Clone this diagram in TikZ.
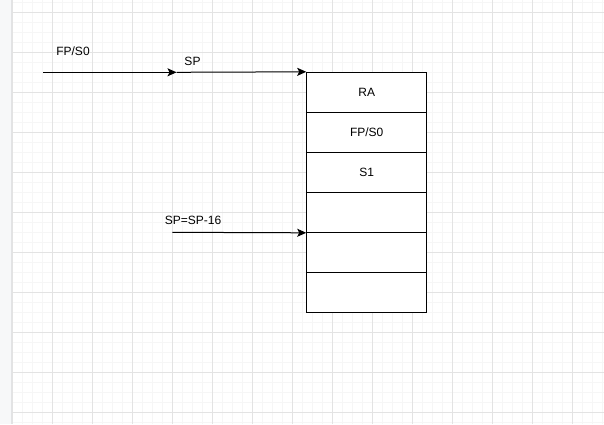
\documentclass[tikz,border=0pt]{standalone}
\usepackage{fontspec}
\setmainfont{Liberation Sans}
\usetikzlibrary{arrows.meta}
\definecolor{panelbg}{HTML}{F7F8F9}
\definecolor{paneledge}{HTML}{E2E3E5}
\definecolor{minorgrid}{HTML}{F6F6F6}
\definecolor{majorgrid}{HTML}{E3E3E3}
\tikzset{
  minorline/.style={draw=minorgrid, line width=1pt},
  majorline/.style={draw=majorgrid, line width=1pt},
  cell/.style={draw=black, line width=1pt, fill=white, rectangle, minimum width=120pt, minimum height=40pt, inner sep=0pt, font=\fontsize{12}{14}\selectfont},
  lbl/.style={inner sep=0pt, font=\fontsize{12}{14}\selectfont},
  conn/.style={draw=black, line width=1pt, -{Stealth[length=9pt,width=8pt,inset=2pt]}}
}
\begin{document}
\begin{tikzpicture}[x=1pt,y=-1pt]
\useasboundingbox (0,0) rectangle (604,424);
\fill[white] (0,0) rectangle (604,424);
% grid
\foreach \i in {0,...,59} {
  \draw[minorline] ({12.3+10*\i},0) -- ({12.3+10*\i},424);
}
\foreach \i in {0,...,42} {
  \draw[minorline] (12,{2.3+10*\i}) -- (604,{2.3+10*\i});
}
\foreach \i in {0,...,14} {
  \draw[majorline] ({12.3+40*\i},0) -- ({12.3+40*\i},424);
}
\foreach \i in {0,...,10} {
  \draw[majorline] (12,{12.3+40*\i}) -- (604,{12.3+40*\i});
}
% left panel
\fill[panelbg] (0,0) rectangle (11.3,424);
\draw[paneledge, line width=1pt] (11.3,0) -- (11.3,424);
% stack cells
\node[cell] (r1) at (366.7,92.3) {RA};
\node[cell] (r2) at (366.7,132.3) {FP/S0};
\node[cell] (r3) at (366.7,172.3) {S1};
\node[cell] (r4) at (366.7,212.3) {};
\node[cell] (r5) at (366.7,252.3) {};
\node[cell] (r6) at (366.7,292.3) {};
% connectors
\coordinate (s1) at (43.3,72.3);
\coordinate (m1) at (176.5,72.3);
\coordinate (s2) at (172.3,232.3);
\draw[conn] (s1) -- (m1);
\draw[conn] (m1) -- (r1.north west);
\draw[conn] (s2) -- (r4.south west);
% labels
\node[lbl] (lfp) at (73,51.7) {FP/S0};
\node[lbl] (lsp) at (192.5,61.7) {SP};
\node[lbl] (lsp16) at (193,220.7) {SP=SP-16};
\end{tikzpicture}
\end{document}
